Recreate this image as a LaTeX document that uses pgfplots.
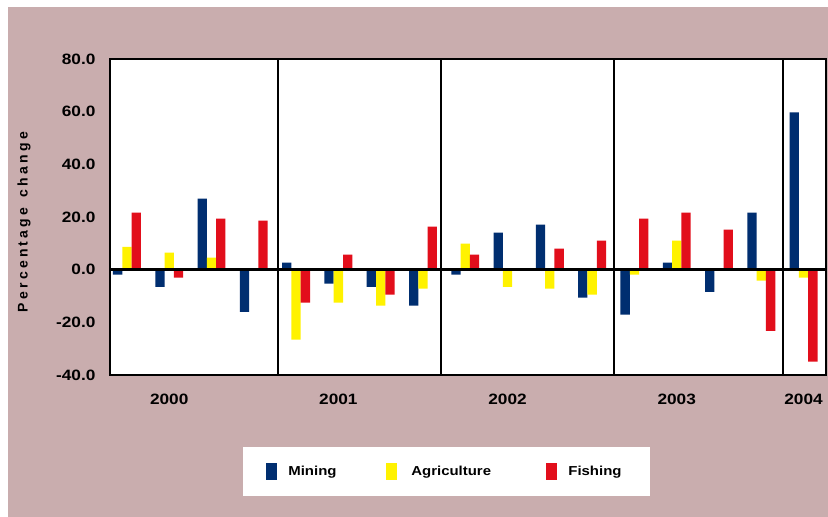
\documentclass[border=0pt]{standalone}
\usepackage{pgfplots}
\pgfplotsset{compat=1.18}
\usepackage{fontspec}
\setmainfont{Liberation Sans}
\newfontfamily\widefont{Liberation Sans}[FakeStretch=1.15]

\definecolor{bgpink}{RGB}{201,173,174}
\definecolor{mining}{RGB}{0,46,112}
\definecolor{agri}{RGB}{255,242,0}
\definecolor{fish}{RGB}{226,14,27}
\definecolor{shade}{RGB}{150,150,150}

\begin{document}
\begin{tikzpicture}[x=1pt,y=1pt]
  % page background
  \useasboundingbox (0,0) rectangle (828,517);
  \fill[white] (0,0) rectangle (828,517);
  \fill[bgpink] (8,0) rectangle (828,510);

  \begin{axis}[
    at={(110pt,142pt)}, anchor=south west,
    scale only axis, width=716pt, height=316pt,
    axis background/.style={fill=white},
    axis line style={line width=1.5pt, black},
    ybar=0pt, bar width=0.22,
    xmin=-0.4, xmax=16.53,
    ymin=-40, ymax=80,
    ytick={-40,-20,0,20,40,60,80},
    yticklabel={\pgfmathprintnumber[fixed,fixed zerofill,precision=1,assume math mode=true]{\tick}},
    ticklabel style={font=\widefont\bfseries\fontsize{15}{17}\selectfont},
    yticklabel style={xshift=-11pt},
    xtick={1,5,9,13,16},
    xticklabels={2000,2001,2002,2003,2004},
    xticklabel style={yshift=-15pt},
    major tick length=0pt,
    every axis y label/.style={at={(axis description cs:-0.12,0.484)}, rotate=90, anchor=center},
    ylabel={\bfseries\fontsize{14}{16}\selectfont\makebox[180pt][s]{P\hfil e\hfil r\hfil c\hfil e\hfil n\hfil t\hfil a\hfil g\hfil e\hfil\ \hfil c\hfil h\hfil a\hfil n\hfil g\hfil e}},
    legend columns=3,
    legend image code/.code={\fill[#1] (0pt,-8.5pt) rectangle (11pt,8.5pt);},
    legend style={at={(axis description cs:0.186,-0.228)}, anchor=north west,
      draw=none, fill=white, inner xsep=23pt, inner ysep=16pt,
      font=\widefont\bfseries\fontsize{13}{15}\selectfont,
      nodes={inner xsep=0pt}},
  ]
    % Mining
    \addplot[fill=mining, draw=none] coordinates {
      (0,-1.9) (1,-6.5) (2,27.0) (3,-16.0)
      (4,2.7) (5,-5.3) (6,-6.5) (7,-13.7)
      (8,-1.9) (9,14.1) (10,17.1) (11,-10.6)
      (12,-17.1) (13,2.7) (14,-8.4) (15,21.7)
      (16,59.7)};
    \addlegendentry{\makebox[109pt][l]{\hspace{11pt}Mining}}
    % Agriculture
    \addplot[fill=agri, draw=none] coordinates {
      (0,8.7) (1,6.5) (2,4.6) (3,0)
      (4,-26.6) (5,-12.5) (6,-13.7) (7,-7.2)
      (8,9.9) (9,-6.5) (10,-7.2) (11,-9.5)
      (12,-1.9) (13,11.0) (14,0) (15,-4.2)
      (16,-3.0)};
    \addlegendentry{\makebox[149pt][l]{\hspace{14pt}Agriculture}}
    % Fishing
    \addplot[fill=fish, draw=none] coordinates {
      (0,21.7) (1,-3.0) (2,19.4) (3,18.6)
      (4,-12.5) (5,5.7) (6,-9.5) (7,16.3)
      (8,5.7) (9,0) (10,8.0) (11,11.0)
      (12,19.4) (13,21.7) (14,15.2) (15,-23.2)
      (16,-34.9)};
    \addlegendentry{\makebox[70pt][l]{\hspace{11pt}Fishing}}

    % year separators
    \foreach \s in {3.57,7.43,11.52,15.51} {
      \edef\tmp{\noexpand\draw[shade, line width=2.6pt] (axis cs:\s,-40) -- (axis cs:\s,80);
        \noexpand\draw[black, line width=1.4pt] (axis cs:\s,-40) -- (axis cs:\s,80);}
      \tmp
    }
    % zero line
    \draw[shade, line width=3pt] (axis cs:-0.4,0) -- (axis cs:16.53,0);
    \draw[black, line width=1.8pt] (axis cs:-0.4,0) -- (axis cs:16.53,0);
  \end{axis}
\end{tikzpicture}
\end{document}
